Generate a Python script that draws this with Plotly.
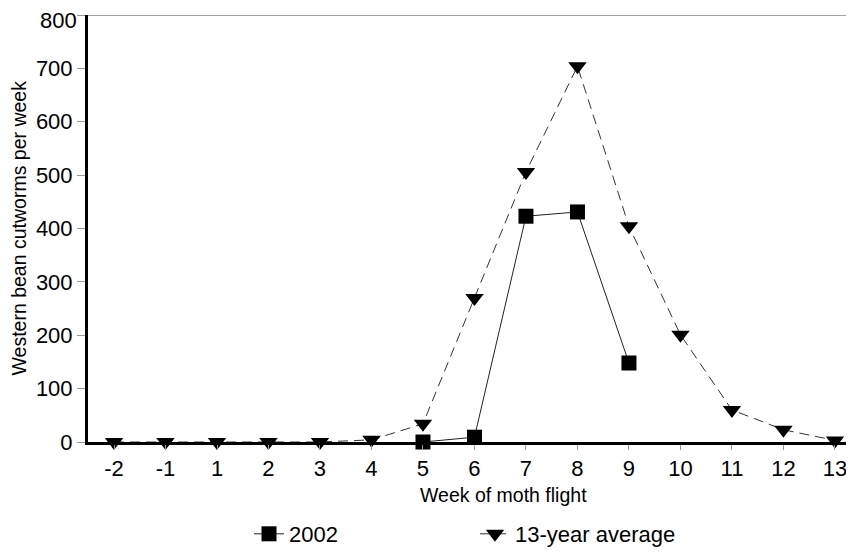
import plotly.graph_objects as go

weeks = ["-2", "-1", "1", "2", "3", "4", "5", "6", "7", "8", "9", "10", "11", "12", "13"]
avg_13yr = [0, 0, 0, 0, 0, 4, 34, 270, 506, 704, 404, 201, 60, 23, 3]
weeks_2002 = ["5", "6", "7", "8", "9"]
vals_2002 = [0, 9, 423, 431, 148]
y_ticks = [0, 100, 200, 300, 400, 500, 600, 700, 800]

FONT = "Liberation Sans, Arial, sans-serif"

# top tick label is drawn as an annotation nudged down so it is not clipped at the page top
y_ticktext = [str(v) for v in y_ticks[:-1]] + [""]

fig = go.Figure()
fig.add_trace(go.Scatter(
    x=weeks_2002, y=vals_2002, name="2002", mode="lines+markers",
    line=dict(color="#222222", width=1),
    marker=dict(symbol="square", size=15, color="black"),
    cliponaxis=False,
))
fig.add_trace(go.Scatter(
    x=weeks, y=avg_13yr, name="13-year average", mode="lines+markers",
    line=dict(color="#333333", width=1, dash="10px,6px"),
    marker=dict(symbol="triangle-down", size=16, color="black"),
    cliponaxis=False,
))

fig.add_shape(type="line", xref="paper", yref="y", x0=0, x1=1, y0=y_ticks[-1], y1=y_ticks[-1],
              line=dict(color="#444444", width=1))

fig.add_annotation(text=str(y_ticks[-1]), xref="paper", yref="y",
                   x=-10 / 766, y=y_ticks[-1], xanchor="right", yanchor="top", yshift=8,
                   showarrow=False, font=dict(size=22, color="black"), borderpad=0)
fig.add_annotation(text="Week of moth flight", xref="paper", yref="paper",
                   x=(503 - 88) / 766, y=(442 - 495) / 427, xanchor="center", yanchor="middle",
                   showarrow=False, font=dict(size=19.5, color="black"))
fig.add_annotation(text="Western bean cutworms per week", xref="paper", yref="paper",
                   x=(18 - 88) / 766, y=0.5, xanchor="center", yanchor="middle", textangle=-90,
                   showarrow=False, font=dict(size=19.5, color="black"))

fig.update_layout(
    width=846, height=550,
    margin=dict(l=80, r=0, t=7, b=116, autoexpand=False),
    paper_bgcolor="white", plot_bgcolor="white",
    font=dict(family=FONT, color="black"),
    showlegend=True,
    legend=dict(orientation="h", x=(249 - 88) / 766, xanchor="left", y=(442 - 534) / 427,
                yanchor="middle", font=dict(size=22, color="black"),
                entrywidth=181, entrywidthmode="pixels", bgcolor="rgba(0,0,0,0)"),
    xaxis=dict(
        type="category", categoryorder="array", categoryarray=weeks,
        range=[-0.505, 14.37], automargin=False,
        showgrid=False, zeroline=False,
        showline=True, linecolor="black", linewidth=3,
        ticks="outside", ticklen=5, tickcolor="#999999", tickwidth=1,
        tickfont=dict(size=22, color="black"),
    ),
    yaxis=dict(
        range=[0, 800], tickvals=y_ticks, ticktext=y_ticktext, automargin=False,
        showgrid=False, zeroline=False,
        showline=True, linecolor="black", linewidth=3,
        ticks="outside", ticklen=8, tickcolor="#999999", tickwidth=1,
        tickfont=dict(size=22, color="black"),
    ),
)

fig.write_html("out.html")
